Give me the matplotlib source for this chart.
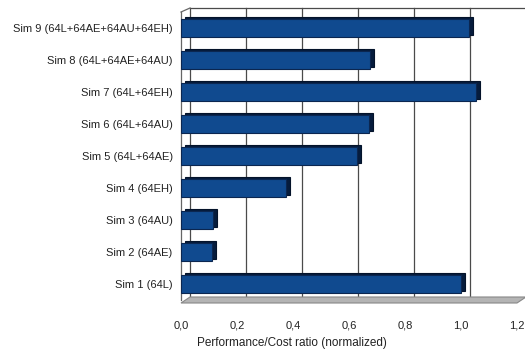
import numpy as np
import matplotlib.pyplot as plt
from matplotlib.transforms import ScaledTranslation
from matplotlib.patches import Polygon

plt.rcParams['font.family'] = ['Liberation Sans Narrow', 'Liberation Sans', 'DejaVu Sans']

# dados
sims = ["Sim 1 (64L)", "Sim 2 (64AE)", "Sim 3 (64AU)", "Sim 4 (64EH)",
        "Sim 5 (64L+64AE)", "Sim 6 (64L+64AU)", "Sim 7 (64L+64EH)",
        "Sim 8 (64L+64AE+64AU)", "Sim 9 (64L+64AE+64AU+64EH)"]
ratio = [1.00, 0.11, 0.115, 0.375, 0.63, 0.67, 1.055, 0.675, 1.03]
ticks = [0.0, 0.2, 0.4, 0.6, 0.8, 1.0, 1.2]
tick_labels = ["0,0", "0,2", "0,4", "0,6", "0,8", "1,0", "1,2"]

W, H = 525, 354
fig = plt.figure(figsize=(W/100, H/100), dpi=100)
ax = fig.add_axes([181/W, (H-300)/H, 336/W, 288/H])
ax.set_xlim(0, 1.2)
ax.set_ylim(-0.5, 8.5)
for s in ax.spines.values():
    s.set_visible(False)
ax.patch.set_visible(False)

# deslocamento da parede do fundo (efeito 3d)
dx, dy = 9/100, 4/100
back = ax.transData + ScaledTranslation(dx, dy, fig.dpi_scale_trans)
depth = ax.transData + ScaledTranslation(4/100, 2/100, fig.dpi_scale_trans)

for v in ticks:
    ax.plot([v, v], [-0.5, 8.5], color="#4a4a4a", lw=0.9, transform=back, clip_on=False, zorder=1)
ax.plot([0, 1.3], [8.5, 8.5], color="#4a4a4a", lw=0.9, transform=back, clip_on=False, zorder=1)
# parede esquerda
ax.plot([0, 0], [-0.5, 8.5], color="#666666", lw=0.9, clip_on=False, zorder=1)
fig.add_artist(plt.Line2D([181/W, 190/W], [(H-12)/H, (H-8)/H], color="#666666", lw=0.9))
# chao
floor = Polygon([(181/W, (H-303)/H), (517/W, (H-303)/H), (526/W, (H-297)/H), (190/W, (H-297)/H)],
                closed=True, transform=fig.transFigure, facecolor="#b4b4b4", edgecolor="#888888", lw=0.8)
fig.add_artist(floor)

y = np.arange(len(sims))
ax.barh(y, ratio, height=0.56, color="#061c3c", edgecolor="#04132a", lw=0.8,
        transform=depth, zorder=2)
ax.barh(y, ratio, height=0.56, color="#104a8f", edgecolor="#0b2650", lw=0.8, zorder=3)

ax.set_yticks(y)
ax.set_yticklabels(sims, fontsize=8, color="#222222")
ax.set_xticks(ticks)
ax.set_xticklabels(tick_labels, fontsize=8, color="#222222")
ax.tick_params(length=0, pad=6)
ax.tick_params(axis='x', pad=15)
ax.set_xlabel("Performance/Cost ratio (normalized)", fontsize=8.5, color="#222222", labelpad=1)
ax.xaxis.set_label_coords(0.33, -0.13)

fig.savefig("out.png", dpi=100)
